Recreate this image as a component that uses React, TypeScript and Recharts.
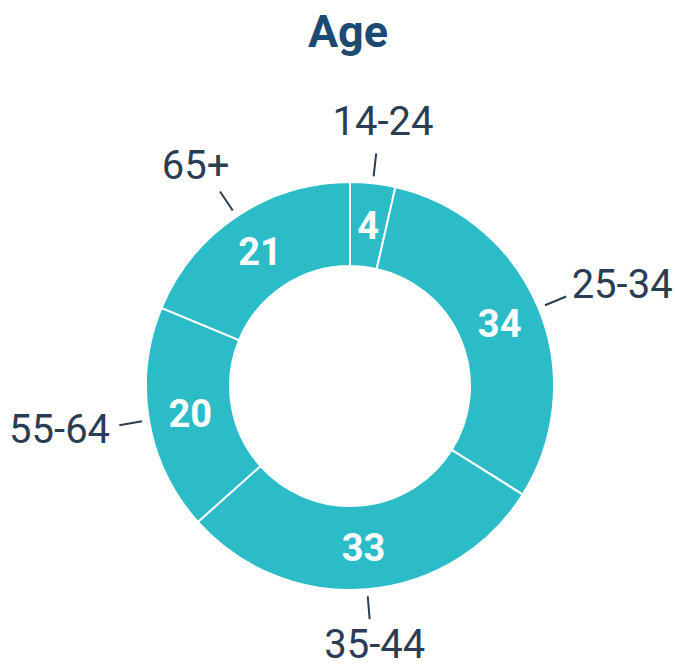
import { PieChart, Pie, Cell } from 'recharts'

// Age distribution donut, clockwise from 12 o'clock
const ageGroups = ['14-24', '25-34', '35-44', '55-64', '65+']
const ageValues = [4, 34, 33, 20, 21]

const TEAL = '#2cbcc7'
const INK = '#2b3d52'
const TITLE = '#1c4a72'
const FONT = 'Roboto, "Noto Sans", sans-serif'

const data = ageGroups.map((name, i) => ({ name, value: ageValues[i] }))

const RADIAN = Math.PI / 180
const LABEL_FS = 40
const VALUE_FS = 38

// rough Roboto advance widths, good enough to place the outer labels
function textWidth(s: string, fs: number) {
  let w = 0
  for (const ch of s) {
    if (ch === '-') w += 0.28 * fs
    else if (ch === '+') w += 0.57 * fs
    else w += 0.562 * fs
  }
  return w
}

function renderLabel(props: any) {
  const { cx, cy, midAngle, innerRadius, outerRadius, name, value } = props
  const cos = Math.cos(-midAngle * RADIAN)
  const sin = Math.sin(-midAngle * RADIAN)

  // value inside the ring
  const mr = (innerRadius + outerRadius) / 2
  const vx = cx + mr * cos
  const vy = cy + mr * sin

  // short leader line just outside the ring
  const r1 = outerRadius + 7
  const r2 = outerRadius + 30
  const sx = cx + r1 * cos
  const sy = cy + r1 * sin
  const ex = cx + r2 * cos
  const ey = cy + r2 * sin

  // outer label centre pushed out along the same direction
  const halfW = textWidth(name, LABEL_FS) / 2
  const halfH = 0.36 * LABEL_FS
  const gapY = sin < 0 ? 18 : 10
  const tx = ex + cos * (10 + halfW)
  const ty = ey + sin * (gapY + halfH)

  return (
    <g>
      <text
        x={vx}
        y={vy + 0.355 * VALUE_FS}
        textAnchor="middle"
        fill="#ffffff"
        fontFamily={FONT}
        fontWeight={700}
        fontSize={VALUE_FS}
      >
        {value}
      </text>
      <line x1={sx} y1={sy} x2={ex} y2={ey} stroke={INK} strokeWidth={2} />
      <text
        x={tx}
        y={ty + 0.355 * LABEL_FS}
        textAnchor="middle"
        fill={INK}
        fontFamily={FONT}
        fontSize={LABEL_FS}
      >
        {name}
      </text>
    </g>
  )
}

export default function App() {
  return (
    <div
      style={{
        position: 'absolute',
        left: 0,
        top: 0,
        width: 675,
        height: 670,
        background: '#ffffff',
      }}
    >
      <div
        style={{
          position: 'absolute',
          left: 0,
          top: 6,
          width: 696,
          textAlign: 'center',
          fontFamily: FONT,
          fontWeight: 700,
          fontSize: 45,
          lineHeight: '52px',
          color: TITLE,
        }}
      >
        Age
      </div>
      <PieChart
        width={675}
        height={670}
        margin={{ top: 0, right: 0, bottom: 0, left: 0 }}
      >
        <Pie
          data={data}
          dataKey="value"
          nameKey="name"
          cx={350}
          cy={386}
          innerRadius={120}
          outerRadius={204}
          startAngle={90}
          endAngle={-270}
          stroke="#ffffff"
          strokeWidth={2}
          label={renderLabel}
          labelLine={false}
          isAnimationActive={false}
        >
          {data.map((d) => (
            <Cell key={d.name} fill={TEAL} />
          ))}
        </Pie>
      </PieChart>
    </div>
  )
}
